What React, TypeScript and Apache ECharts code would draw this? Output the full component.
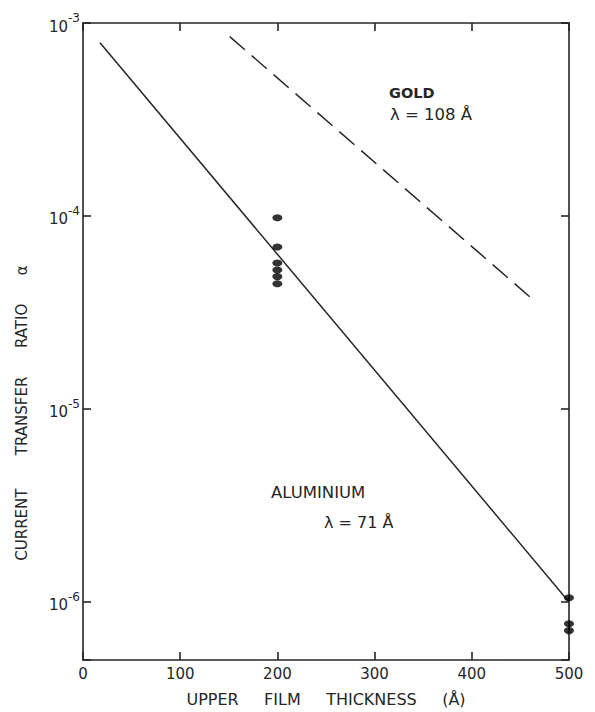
import React, { useEffect, useRef } from "react";
import * as echarts from "echarts";

// Measured points (thickness in Å, current transfer ratio)
const pointThickness = [200, 200, 200, 200, 200, 200, 500, 500, 500];
const pointRatio = [9.8e-5, 6.9e-5, 5.7e-5, 5.25e-5, 4.85e-5, 4.45e-5, 1.05e-6, 7.7e-7, 7.1e-7];

// Fitted exponential lines (end points)
const aluminiumX = [17.5, 500];
const aluminiumY = [7.9e-4, 1.0e-6];
const goldX = [151, 460];
const goldY = [8.5e-4, 3.8e-5];

const xMin = 0;
const xMax = 500;
const xInterval = 100;
const yMin = 5e-7;
const yMax = 1e-3;

const FONT = "DejaVu Sans";
const INK = "#262626";

const axisLine = () => ({ show: true, onZero: false, lineStyle: { color: INK, width: 1.6 } });
const tickIn = () => ({ show: true, inside: true, length: 8, lineStyle: { color: INK, width: 1.6 } });

export default function App() {
  const ref = useRef<HTMLDivElement>(null);
  useEffect(() => {
    document.body.style.margin = "0";
    const chart = echarts.init(ref.current!, null, { renderer: "svg" });
    const pts = pointThickness.map((x, i) => [x, pointRatio[i]]);
    const al = aluminiumX.map((x, i) => [x, aluminiumY[i]]);
    const au = goldX.map((x, i) => [x, goldY[i]]);
    const powLabel = (v: number) => {
      const e = Math.log10(v);
      if (Math.abs(e - Math.round(e)) > 1e-6) return "";
      return `{a|10}{b|${Math.round(e)}}`;
    };
    chart.setOption({
      animation: false,
      backgroundColor: "#ffffff",
      grid: { left: 83, right: 26, top: 23, bottom: 51 },
      xAxis: [
        {
          type: "value",
          min: xMin,
          max: xMax,
          interval: xInterval,
          position: "bottom",
          axisLine: axisLine(),
          axisTick: tickIn(),
          splitLine: { show: false },
          axisLabel: { color: INK, fontFamily: FONT, fontSize: 15, margin: 6 },
          name: "UPPER     FILM     THICKNESS     (Å)",
          nameLocation: "middle",
          nameGap: 31,
          nameTextStyle: { color: INK, fontFamily: FONT, fontSize: 16 },
        },
        {
          type: "value",
          min: xMin,
          max: xMax,
          interval: xInterval,
          position: "top",
          axisLine: axisLine(),
          axisTick: tickIn(),
          splitLine: { show: false },
          axisLabel: { show: false },
        },
      ],
      yAxis: [
        {
          type: "log",
          logBase: 10,
          min: yMin,
          max: yMax,
          position: "left",
          axisLine: axisLine(),
          axisTick: tickIn(),
          splitLine: { show: false },
          axisLabel: {
            margin: 3,
            formatter: powLabel,
            rich: {
              a: { fontFamily: FONT, fontSize: 15, color: INK, verticalAlign: "bottom", lineHeight: 22 },
              b: { fontFamily: FONT, fontSize: 12, color: INK, verticalAlign: "top", lineHeight: 22 },
            },
          },
        },
        {
          type: "log",
          logBase: 10,
          min: yMin,
          max: yMax,
          position: "right",
          axisLine: axisLine(),
          axisTick: tickIn(),
          splitLine: { show: false },
          axisLabel: { show: false },
        },
      ],
      series: [
        {
          type: "line",
          data: al,
          showSymbol: false,
          symbol: "none",
          lineStyle: { color: INK, width: 1.5 },
          xAxisIndex: 0,
          yAxisIndex: 0,
          z: 2,
        },
        {
          type: "line",
          data: au,
          showSymbol: false,
          symbol: "none",
          lineStyle: { color: INK, width: 1.5, type: [20, 9] },
          xAxisIndex: 0,
          yAxisIndex: 0,
          z: 2,
        },
        {
          type: "scatter",
          data: pts,
          symbol: "circle",
          symbolSize: [10, 7],
          itemStyle: { color: "#000" },
          clip: false,
          xAxisIndex: 0,
          yAxisIndex: 0,
          z: 3,
        },
      ],
      graphic: [
        {
          type: "text",
          x: 22,
          y: 413,
          rotation: Math.PI / 2,
          style: {
            text: "CURRENT       TRANSFER      RATIO      α",
            fontFamily: FONT,
            fontSize: 15,
            fill: INK,
            align: "center",
            verticalAlign: "middle",
          },
        },
        {
          type: "text",
          x: 389,
          y: 93,
          style: { text: "GOLD", fontFamily: FONT, fontSize: 14.5, fontWeight: "bold", fill: INK, align: "left", verticalAlign: "middle" },
        },
        {
          type: "text",
          x: 390,
          y: 114,
          style: { text: "λ = 108 Å", fontFamily: FONT, fontSize: 16.5, fill: INK, align: "left", verticalAlign: "middle" },
        },
        {
          type: "text",
          x: 271,
          y: 492,
          style: { text: "ALUMINIUM", fontFamily: FONT, fontSize: 16.5, fill: INK, align: "left", verticalAlign: "middle" },
        },
        {
          type: "text",
          x: 324,
          y: 522,
          style: { text: "λ = 71 Å", fontFamily: FONT, fontSize: 16, fill: INK, align: "left", verticalAlign: "middle" },
        },
      ],
    });
    return () => chart.dispose();
  }, []);
  return <div ref={ref} style={{ position: "absolute", left: 0, top: 0, width: 595, height: 712 }} />;
}
